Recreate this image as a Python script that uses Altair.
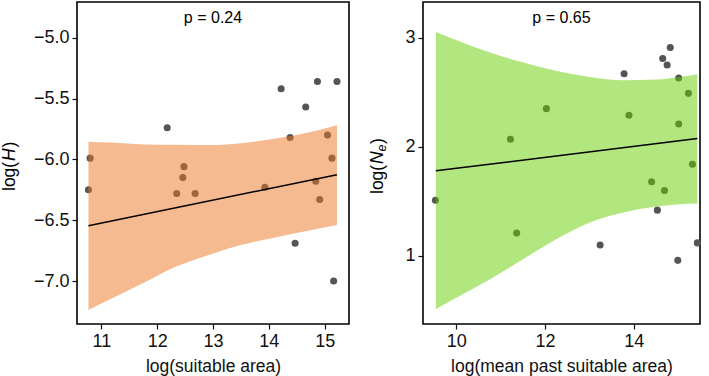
import altair as alt
import pandas as pd

FONT = "Liberation Sans"

# ---- Left panel: genetic diversity vs. suitable area ----
h_x = [10.77, 10.80, 12.18, 12.48, 12.46, 12.35, 12.68, 13.93, 14.22, 14.38,
       14.66, 14.87, 15.22, 15.05, 15.13, 14.84, 14.91, 14.47, 15.16]
h_y = [-6.25, -5.99, -5.74, -6.06, -6.15, -6.28, -6.28, -6.23, -5.42, -5.82,
       -5.57, -5.36, -5.36, -5.80, -5.99, -6.18, -6.33, -6.69, -7.00]
h_fit_x = [10.77, 15.22]
h_fit_y = [-6.546, -6.126]
h_band_x = [10.77, 11.16, 11.76, 12.36, 12.95, 13.55, 14.15, 14.75, 15.22]
h_band_lo = [-7.238, -7.150, -7.014, -6.877, -6.781, -6.698, -6.638, -6.583, -6.540]
h_band_hi = [-5.855, -5.862, -5.877, -5.880, -5.883, -5.866, -5.827, -5.775, -5.720]
h_xticks = [11, 12, 13, 14, 15]
h_yticks = [-7.0, -6.5, -6.0, -5.5, -5.0]

# ---- Right panel: effective population size vs. mean past suitable area ----
ne_x = [9.53, 11.22, 11.36, 12.03, 13.24, 13.78, 13.89, 14.40, 14.53, 14.65,
        14.75, 14.82, 14.69, 15.01, 15.01, 14.99, 15.23, 15.32, 15.43]
ne_y = [1.51, 2.07, 1.21, 2.35, 1.10, 2.67, 2.29, 1.68, 1.42, 2.81,
        2.75, 2.91, 1.60, 2.63, 2.21, 0.96, 2.49, 1.84, 1.12]
ne_fit_x = [9.54, 15.43]
ne_fit_y = [1.78, 2.076]
ne_band_x = [9.54, 10.01, 10.76, 11.51, 12.26, 13.01, 13.76, 14.51, 15.04, 15.43]
ne_band_lo = [0.514, 0.620, 0.788, 0.972, 1.155, 1.307, 1.398, 1.453, 1.475, 1.481]
ne_band_hi = [3.053, 2.977, 2.864, 2.772, 2.696, 2.641, 2.611, 2.617, 2.641, 2.666]
ne_xticks = [10, 12, 14]
ne_yticks = [1, 2, 3]


def title_piece(text, x, y, size=17.5, style="normal"):
    return alt.Chart(pd.DataFrame({"t": [text]})).mark_text(
        font=FONT, fontSize=size, fontStyle=style, angle=270,
        align="left", baseline="middle", color="black",
    ).encode(text="t:N", x=alt.value(x), y=alt.value(y))


def panel(px, py, fx, fy, bx, blo, bhi, fill, xdom, ydom, xticks, yticks,
          yfmt, xtitle, ptext, width, height, ytitle_layers):
    pts = pd.DataFrame({"x": px, "y": py})
    fit = pd.DataFrame({"x": fx, "y": fy})
    band = pd.DataFrame({"x": bx, "lo": blo, "hi": bhi})

    xs = alt.Scale(domain=xdom, nice=False, zero=False)
    ys = alt.Scale(domain=ydom, nice=False, zero=False)
    xax = alt.Axis(values=xticks, format="d", title=xtitle)
    yax = alt.Axis(values=yticks, format=yfmt, title=None)

    points = alt.Chart(pts).mark_circle(size=50, opacity=1, color="#555555").encode(
        x=alt.X("x:Q", scale=xs, axis=xax),
        y=alt.Y("y:Q", scale=ys, axis=yax),
    )
    ribbon = alt.Chart(band).mark_area(
        color=fill, opacity=0.5, interpolate="monotone"
    ).encode(x="x:Q", y="lo:Q", y2="hi:Q")
    line = alt.Chart(fit).mark_line(color="black", strokeWidth=1.5).encode(
        x="x:Q", y="y:Q"
    )
    ptxt = alt.Chart(pd.DataFrame({"t": [ptext]})).mark_text(
        font=FONT, fontSize=16, color="black", align="center", baseline="middle"
    ).encode(text="t:N", x=alt.value(width / 2), y=alt.value(16))

    return alt.layer(points, ribbon, line, ptxt, *ytitle_layers).properties(
        width=width, height=height
    )


# y-axis titles with italic symbols
left_titles = [
    title_piece("log(", -67, 189),
    title_piece("H", -67, 159, style="italic"),
    title_piece(")", -67, 145.5),
]
right_titles = [
    title_piece("log(", -45, 192),
    title_piece("N", -45, 162, style="italic"),
    title_piece("e", -41, 149.5, size=12.5, style="italic"),
    title_piece(")", -45, 142),
]

left = panel(h_x, h_y, h_fit_x, h_fit_y, h_band_x, h_band_lo, h_band_hi,
             "#EE7621", [10.565, 15.435], [-7.353, -4.707], h_xticks, h_yticks,
             ".1f", "log(suitable area)", "p = 0.24", 272, 322, left_titles)
right = panel(ne_x, ne_y, ne_fit_x, ne_fit_y, ne_band_x, ne_band_lo, ne_band_hi,
              "#66CD00", [9.25, 15.49], [0.377, 3.327], ne_xticks, ne_yticks,
              "d", "log(mean past suitable area)", "p = 0.65", 277, 322, right_titles)

chart = alt.hconcat(left, right, spacing=18).properties(
    padding={"left": 0, "top": 1, "right": 0, "bottom": 0}
).configure_view(
    stroke="black", strokeWidth=1.6
).configure_axis(
    grid=False, domain=False,
    labelFont=FONT, labelFontSize=18, labelColor="#111111", labelPadding=3,
    tickColor="#111111", tickSize=5, tickWidth=1.2,
    titleFont=FONT, titleFontSize=17.5, titleFontWeight="normal",
    titleColor="#111111", titlePadding=7,
)

chart.save("out.html", embed_options={"renderer": "svg", "actions": False})
